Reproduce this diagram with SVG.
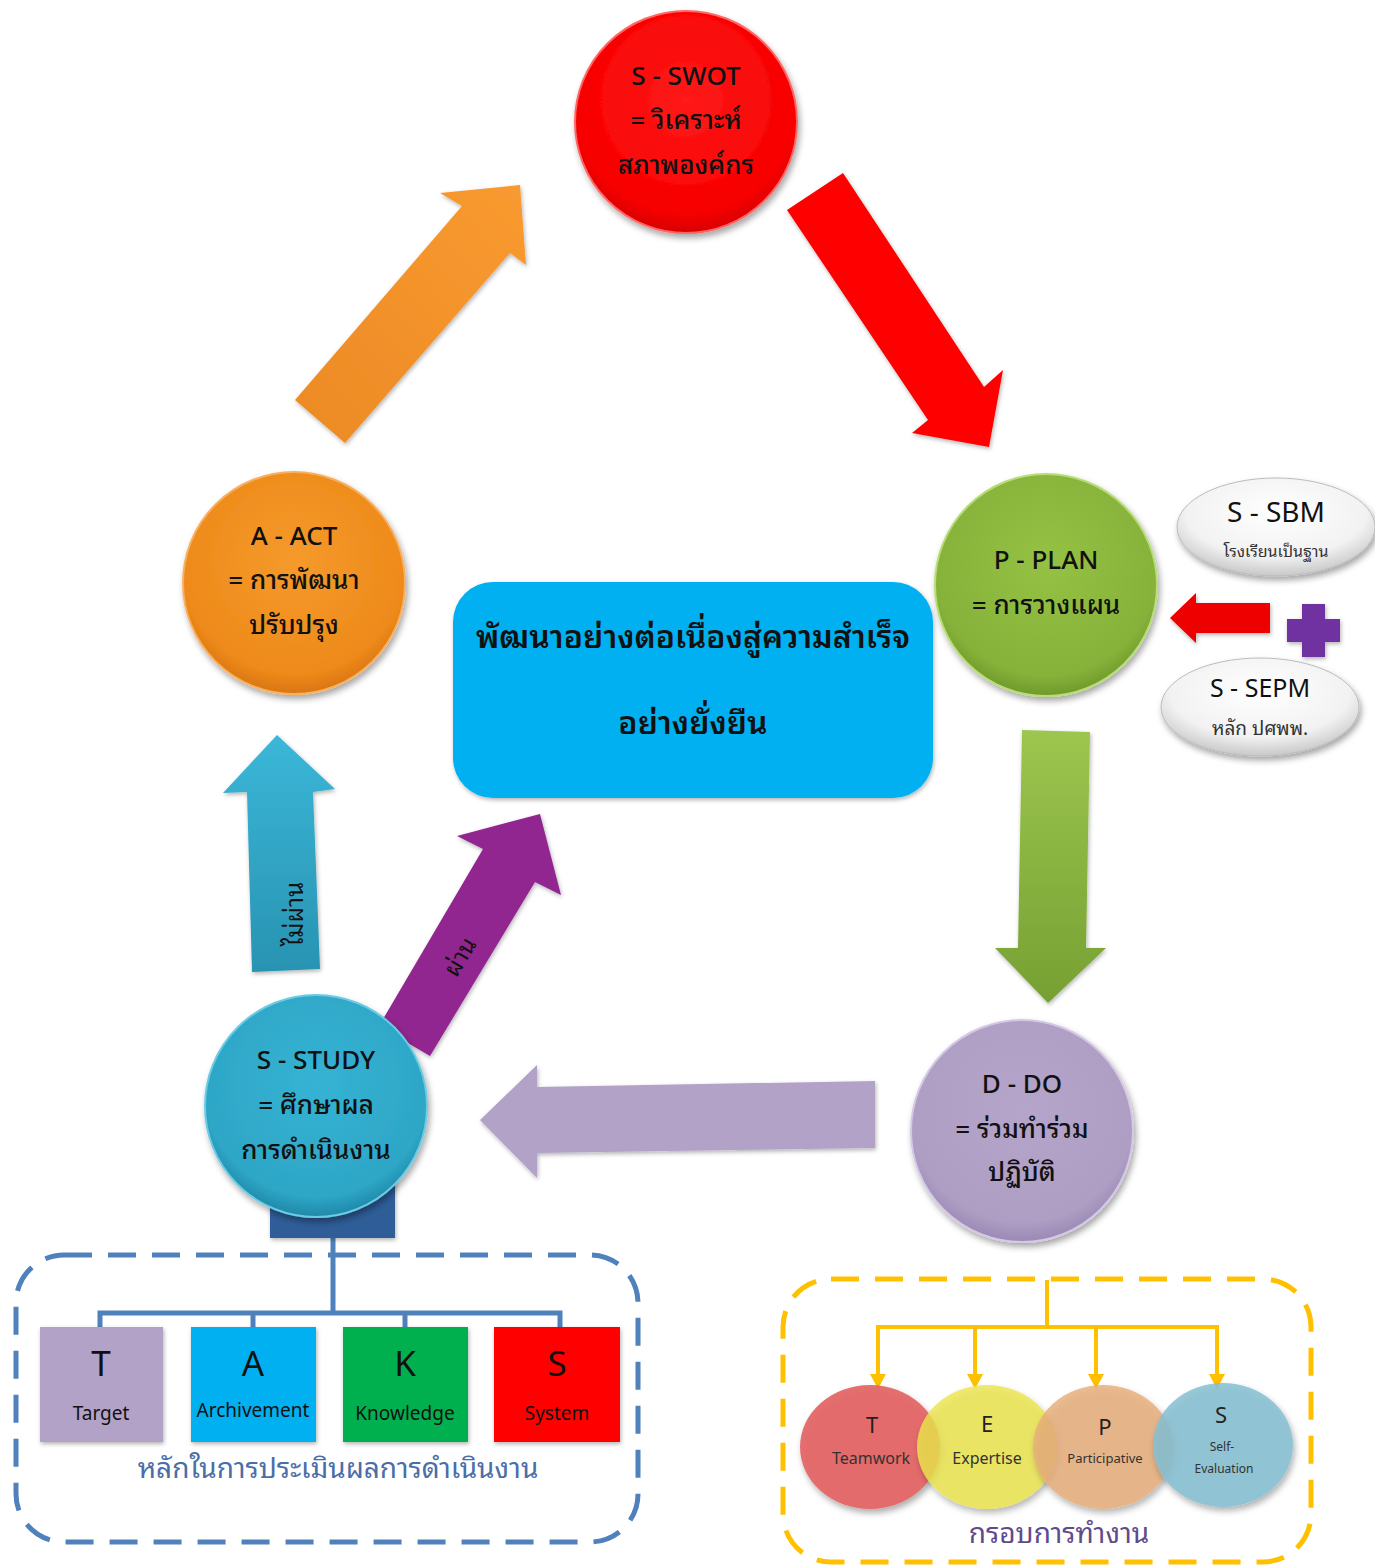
<svg xmlns="http://www.w3.org/2000/svg" width="1375" height="1566" viewBox="0 0 1375 1566">
<defs>
<style>
.t{font-family:"Noto Sans Thai Looped","Noto Sans Thai","Noto Sans","Leelawadee UI",Tahoma,sans-serif;fill:#111;text-anchor:middle}
.c24{font-size:26px;font-weight:500}
.big{font-size:32px;font-weight:600}
.lbl{font-size:24px}
.box{font-size:19px}
.let{font-size:35px}
.tep{font-size:16px;fill:#333}
</style>
<filter id="sh" x="-20%" y="-20%" width="140%" height="140%"><feDropShadow dx="2" dy="4" stdDeviation="3" flood-color="#000" flood-opacity="0.35"/></filter>
<filter id="shs" x="-20%" y="-20%" width="140%" height="140%"><feDropShadow dx="1" dy="2" stdDeviation="2" flood-color="#000" flood-opacity="0.3"/></filter>
<radialGradient id="gRed" cx="50%" cy="40%" r="60%"><stop offset="0" stop-color="#ff1a1a"/><stop offset="0.85" stop-color="#f70000"/><stop offset="1" stop-color="#d80000"/></radialGradient>
<radialGradient id="gOr" cx="50%" cy="40%" r="60%"><stop offset="0" stop-color="#f59a2c"/><stop offset="0.85" stop-color="#ee8a1a"/><stop offset="1" stop-color="#d97510"/></radialGradient>
<radialGradient id="gGr" cx="50%" cy="40%" r="60%"><stop offset="0" stop-color="#95c144"/><stop offset="0.85" stop-color="#86b23a"/><stop offset="1" stop-color="#6f992a"/></radialGradient>
<radialGradient id="gLv" cx="50%" cy="40%" r="60%"><stop offset="0" stop-color="#b5a5ca"/><stop offset="0.85" stop-color="#ae9ec4"/><stop offset="1" stop-color="#9a89b4"/></radialGradient>
<radialGradient id="gTl" cx="50%" cy="40%" r="60%"><stop offset="0" stop-color="#35b3d4"/><stop offset="0.85" stop-color="#2ea6c6"/><stop offset="1" stop-color="#2088a8"/></radialGradient>
<radialGradient id="gWh" cx="50%" cy="35%" r="65%"><stop offset="0" stop-color="#ffffff"/><stop offset="0.7" stop-color="#f2f2f2"/><stop offset="1" stop-color="#c8c8c8"/></radialGradient>
<linearGradient id="aOr" x1="0" y1="1" x2="1" y2="0"><stop offset="0" stop-color="#ec8a25"/><stop offset="1" stop-color="#f99a30"/></linearGradient>
<linearGradient id="aGr" x1="0" y1="0" x2="0" y2="1"><stop offset="0" stop-color="#9cc64e"/><stop offset="1" stop-color="#76a032"/></linearGradient>
<linearGradient id="aTl" x1="0" y1="0" x2="0" y2="1"><stop offset="0" stop-color="#3bb7d8"/><stop offset="1" stop-color="#2893b2"/></linearGradient>
</defs>
<rect width="1375" height="1566" fill="#fff"/>

<g id="connectors">
  <polygon id="arrow-act-swot" points="295,400 462,206 440,193 520,185 526,265 510,253 345,443" fill="url(#aOr)" filter="url(#shs)"/>
  <polygon id="arrow-swot-plan" points="787,210 843,173 984,387 1003,370 989,447 912,433 928,420" fill="#ff0000" filter="url(#shs)"/>
  <polygon id="arrow-plan-do" points="1022,730 1090,732 1086,948 1106,948 1048,1003 995,948 1018,948" fill="url(#aGr)" filter="url(#shs)"/>
  <polygon id="arrow-do-study" points="875,1081 875,1148 537,1153 537,1178 480,1120 537,1065 537,1087" fill="#b2a2c7" filter="url(#shs)"/>
  <polygon id="arrow-study-act" points="252,972 247,792 223,793 277,735 335,789 313,792 320,969" fill="url(#aTl)" filter="url(#shs)"/>
  <text class="t lbl" transform="translate(303,914) rotate(-90)">ไม่ผ่าน</text>
  <polygon id="arrow-study-center" points="379,1026 483,849 457,836 540,814 561,895 535,882 430,1056" fill="#922590" filter="url(#shs)"/>
  <text class="t lbl" transform="translate(467,961) rotate(-59)">ผ่าน</text>
  <polygon id="arrow-s-plan" points="1270,603 1270,633 1196,633 1196,643 1170,618 1196,593 1196,603" fill="#ee0000" filter="url(#shs)"/>
  <path id="plus" d="M1302,604 H1325 V619 H1340 V642 H1325 V657 H1302 V642 H1287 V619 H1302 Z" fill="#7030a0" filter="url(#shs)"/>
  <g id="tree-left" fill="none" stroke="#4f81bd" stroke-width="5">
    <path d="M333,1238 V1313 M100,1327 V1313 H560 V1327 M253,1313 V1327 M405,1313 V1327"/>
  </g>
  <g id="tree-right" fill="none" stroke="#ffc000" stroke-width="4">
    <path d="M1047,1280 V1327 M878,1377 V1327 H1217 V1377 M975,1327 V1377 M1096,1327 V1377"/>
  </g>
  <g fill="#ffc000">
    <polygon points="870,1374 886,1374 878,1389"/>
    <polygon points="967,1374 983,1374 975,1389"/>
    <polygon points="1088,1374 1104,1374 1096,1389"/>
    <polygon points="1209,1374 1225,1374 1217,1389"/>
  </g>
</g>

<g id="node-swot">
  <circle cx="686" cy="122" r="111" fill="url(#gRed)" stroke="#ff6666" stroke-width="2" filter="url(#sh)"/>
  <text class="t c24" x="686" y="85">S - SWOT</text>
  <text class="t c24" x="686" y="129">= วิเคราะห์</text>
  <text class="t c24" x="686" y="174">สภาพองค์กร</text>
</g>
<g id="node-act">
  <circle cx="294" cy="583" r="111" fill="url(#gOr)" stroke="#f8b060" stroke-width="2" filter="url(#sh)"/>
  <text class="t c24" x="294" y="545">A - ACT</text>
  <text class="t c24" x="294" y="589">= การพัฒนา</text>
  <text class="t c24" x="294" y="634">ปรับปรุง</text>
</g>
<g id="node-plan">
  <circle cx="1046" cy="585" r="111" fill="url(#gGr)" stroke="#b8dc78" stroke-width="2" filter="url(#sh)"/>
  <text class="t c24" x="1046" y="569">P - PLAN</text>
  <text class="t c24" x="1046" y="614">= การวางแผน</text>
</g>
<g id="node-do">
  <circle cx="1022" cy="1131" r="111" fill="url(#gLv)" stroke="#d4c8e4" stroke-width="2" filter="url(#sh)"/>
  <text class="t c24" x="1022" y="1093">D - DO</text>
  <text class="t c24" x="1022" y="1138">= ร่วมทำร่วม</text>
  <text class="t c24" x="1022" y="1181">ปฏิบัติ</text>
</g>
<g id="node-study">
  <rect x="270" y="1180" width="125" height="58" fill="#2f5d98" filter="url(#shs)"/>
  <circle cx="316" cy="1106" r="111" fill="url(#gTl)" stroke="#6ccbe4" stroke-width="2" filter="url(#sh)"/>
  <text class="t c24" x="316" y="1069">S - STUDY</text>
  <text class="t c24" x="316" y="1114">= ศึกษาผล</text>
  <text class="t c24" x="316" y="1159">การดำเนินงาน</text>
</g>
<g id="node-center">
  <rect x="453" y="582" width="480" height="216" rx="40" fill="#00b0f0" filter="url(#shs)"/>
  <text class="t big" x="693" y="648">พัฒนาอย่างต่อเนื่องสู่ความสำเร็จ</text>
  <text class="t big" x="693" y="734">อย่างยั่งยืน</text>
</g>
<g id="node-sbm">
  <ellipse cx="1276" cy="527" rx="99" ry="49" fill="url(#gWh)" stroke="#bbb" stroke-width="1" filter="url(#sh)"/>
  <text class="t" style="font-size:28px" x="1276" y="522">S - SBM</text>
  <text class="t" style="font-size:16px;fill:#333" x="1276" y="557">โรงเรียนเป็นฐาน</text>
</g>
<g id="node-sepm">
  <ellipse cx="1260" cy="707" rx="99" ry="49" fill="url(#gWh)" stroke="#bbb" stroke-width="1" filter="url(#sh)"/>
  <text class="t" style="font-size:25px" x="1260" y="697">S - SEPM</text>
  <text class="t" style="font-size:19px;fill:#333" x="1260" y="735">หลัก ปศพพ.</text>
</g>

<g id="group-taks">
  <rect x="16" y="1255" width="622" height="287" rx="48" fill="none" stroke="#4f81bd" stroke-width="5" stroke-dasharray="28 16"/>
  <g id="node-t"><rect x="40" y="1327" width="123" height="115" fill="#b2a2c7" filter="url(#shs)"/><text class="t let" x="101" y="1376">T</text><text class="t box" x="101" y="1420">Target</text></g>
  <g id="node-a"><rect x="191" y="1327" width="125" height="115" fill="#00b0f0" filter="url(#shs)"/><text class="t let" x="253" y="1376">A</text><text class="t box" x="253" y="1417">Archivement</text></g>
  <g id="node-k"><rect x="343" y="1327" width="125" height="115" fill="#00b050" filter="url(#shs)"/><text class="t let" x="405" y="1376">K</text><text class="t box" x="405" y="1420">Knowledge</text></g>
  <g id="node-s"><rect x="494" y="1327" width="126" height="115" fill="#ff0000" filter="url(#shs)"/><text class="t let" x="557" y="1376">S</text><text class="t box" x="557" y="1420">System</text></g>
  <text class="t" style="font-size:28px;fill:#4a6ea9" x="338" y="1478">หลักในการประเมินผลการดำเนินงาน</text>
</g>

<g id="group-teps">
  <rect x="783" y="1279" width="528" height="283" rx="48" fill="none" stroke="#ffc000" stroke-width="5" stroke-dasharray="28 16"/>
  <g id="node-te"><ellipse cx="870" cy="1447" rx="70" ry="62" fill="#e46464" fill-opacity="0.92" filter="url(#sh)"/></g>
  <g id="node-ex"><ellipse cx="987" cy="1447" rx="70" ry="62" fill="#ece64e" fill-opacity="0.8" filter="url(#sh)"/></g>
  <g id="node-pa"><ellipse cx="1103" cy="1447" rx="70" ry="62" fill="#e8ad7a" fill-opacity="0.82" filter="url(#sh)"/></g>
  <g id="node-se"><ellipse cx="1223" cy="1445" rx="70" ry="62" fill="#86c0d2" fill-opacity="0.85" filter="url(#sh)"/></g>
  <text class="t" style="font-size:22px;fill:#222" x="872" y="1433">T</text>
  <text class="t tep" x="871" y="1464">Teamwork</text>
  <text class="t" style="font-size:22px;fill:#222" x="987" y="1432">E</text>
  <text class="t tep" x="987" y="1464">Expertise</text>
  <text class="t" style="font-size:22px;fill:#222" x="1105" y="1435">P</text>
  <text class="t" style="font-size:13px;fill:#333" x="1105" y="1463">Participative</text>
  <text class="t" style="font-size:22px;fill:#222" x="1221" y="1423">S</text>
  <text class="t" style="font-size:12px;fill:#333" x="1222" y="1451">Self-</text>
  <text class="t" style="font-size:12px;fill:#333" x="1224" y="1473">Evaluation</text>
  <text class="t" style="font-size:28px;fill:#5f4b8b" x="1059" y="1543">กรอบการทำงาน</text>
</g>
</svg>
